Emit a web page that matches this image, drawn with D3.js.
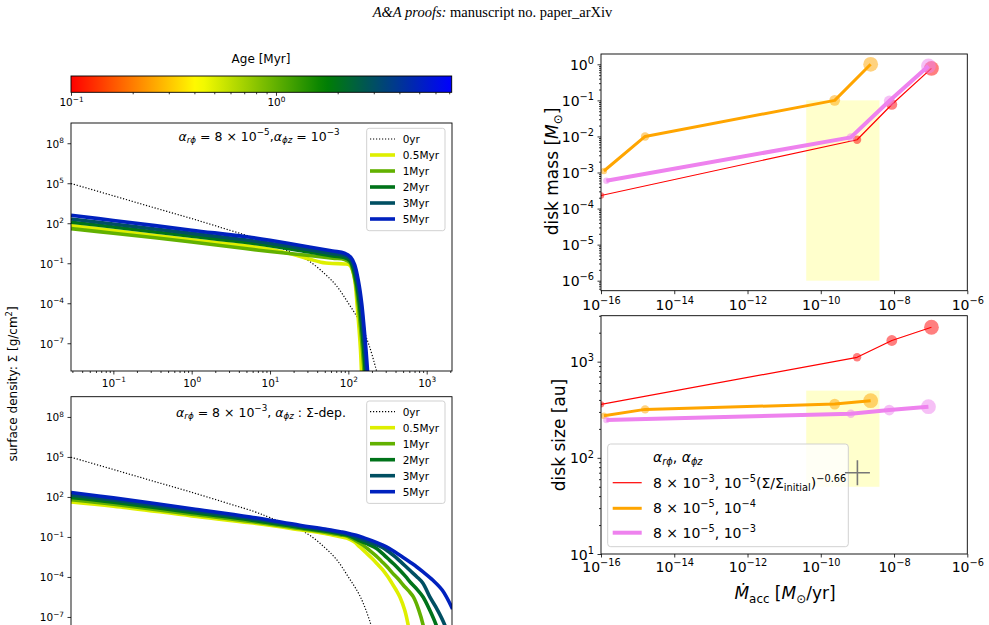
<!DOCTYPE html>
<html><head><meta charset="utf-8">
<script src="https://cdn.jsdelivr.net/npm/d3@7/dist/d3.min.js"></script>
<style>
html,body{margin:0;padding:0;background:#fff;}
svg{display:block;}
text{font-family:"DejaVu Sans",sans-serif;}
</style></head>
<body>
<svg id="chart" width="989" height="625"></svg>
<script>
// ================= DATA =================
const titleItalic = "A&A proofs:";
const titleRest = " manuscript no. paper_arXiv";

// colour bar (age, Myr)
const ageDomain = [0.1, 7.2];
const ageMajorTicks = [0.1, 1];
const snapshotAges = [0.5, 1, 2, 3, 5];
const snapshotLabels = ["0.5Myr", "1Myr", "2Myr", "3Myr", "5Myr"];
const initialLabel = "0yr";

// surface-density panels: radius [au], sigma [g/cm^2]
const radiusDomain = [0.0288, 2104];
const radiusMajorTicks = [0.1, 1, 10, 100, 1000];
const sigmaDomain = [8.3e-10, 3.3e9];
const sigmaMajorTicks = [1e-7, 1e-4, 1e-1, 1e2, 1e5, 1e8];

// [log10 r, log10 sigma]
const logSigmaInitial = [[-1.54,4.98],[-1,4.06],[-0.5,3.2],[0,2.35],[0.5,1.45],[0.8,0.9],[1.0,0.45],[1.3,-0.25],[1.5,-0.85],[1.7,-1.8],[1.85,-2.7],[2.0,-4.0],[2.15,-5.45],[2.27,-7.25],[2.37,-9.3]];

// panel A : alpha_rphi = 8e-5, alpha_phiz = 1e-3
const logSigmaA05 = [[-1.54,1.83],[-1,1.46],[0,0.76],[0.68,0.33],[1.0,0.05],[1.3,-0.35],[1.5,-0.68],[1.65,-0.92],[1.8,-1.02],[1.95,-1.05],[2.02,-1.15],[2.055,-1.55],[2.085,-2.4],[2.11,-4],[2.135,-5.8],[2.155,-7.5],[2.17,-9.5]];
const logSigmaA1  = [[-1.54,1.6],[-1,1.25],[0,0.6],[0.68,0.1],[1.0,-0.12],[1.5,-0.42],[1.8,-0.62],[1.95,-0.72],[2.02,-0.95],[2.05,-1.4],[2.09,-2.4],[2.125,-4],[2.155,-5.8],[2.18,-7.5],[2.205,-9.5]];
const logSigmaA2  = [[-1.54,2.08],[-1,1.72],[0,1.02],[0.68,0.58],[1.0,0.32],[1.5,-0.16],[1.8,-0.45],[1.95,-0.58],[2.02,-0.82],[2.06,-1.35],[2.1,-2.4],[2.14,-4],[2.17,-5.8],[2.195,-7.5],[2.22,-9.5]];
const logSigmaA3  = [[-1.54,2.32],[-1,1.95],[0,1.24],[0.68,0.76],[1.0,0.5],[1.5,0.02],[1.8,-0.28],[1.95,-0.42],[2.03,-0.7],[2.07,-1.25],[2.115,-2.4],[2.155,-4],[2.185,-5.8],[2.21,-7.5],[2.235,-9.5]];
const logSigmaA5  = [[-1.54,2.6],[-1,2.21],[0,1.48],[0.68,1.0],[1.0,0.72],[1.5,0.22],[1.8,-0.08],[1.95,-0.25],[2.03,-0.55],[2.08,-1.1],[2.13,-2.4],[2.17,-4],[2.2,-5.8],[2.225,-7.5],[2.25,-9.5]];

// panel B : alpha_rphi = 8e-3, alpha_phiz sigma-dependent
const logSigmaB05 = [[-1.54,1.63],[-1,1.31],[0,0.58],[0.75,0.06],[1.38,-0.46],[1.7,-0.74],[1.9,-0.98],[1.98,-1.08],[2.07,-1.35],[2.147,-1.75],[2.22,-2.15],[2.3,-2.6],[2.37,-3.03],[2.444,-3.5],[2.5,-3.95],[2.56,-4.5],[2.61,-4.98],[2.658,-5.5],[2.72,-6.5],[2.763,-7.6],[2.8,-9]];
const logSigmaB1  = [[-1.54,1.8],[-1,1.46],[0,0.71],[0.75,0.17],[1.38,-0.37],[1.7,-0.64],[1.9,-0.85],[1.98,-0.94],[2.1,-1.3],[2.19,-1.63],[2.27,-2.0],[2.35,-2.4],[2.42,-2.8],[2.5,-3.27],[2.57,-3.75],[2.64,-4.17],[2.7,-4.6],[2.77,-5.05],[2.83,-5.5],[2.9,-6.5],[2.954,-7.6],[3.0,-9]];
const logSigmaB2  = [[-1.54,1.97],[-1,1.61],[0,0.84],[0.75,0.28],[1.38,-0.28],[1.7,-0.56],[1.9,-0.77],[1.98,-0.86],[2.07,-1.06],[2.15,-1.3],[2.26,-1.57],[2.36,-1.87],[2.43,-2.22],[2.5,-2.6],[2.58,-3.03],[2.658,-3.5],[2.73,-3.96],[2.8,-4.45],[2.88,-4.95],[2.954,-5.5],[3.04,-6.5],[3.12,-7.6],[3.2,-9.2]];
const logSigmaB3  = [[-1.54,2.15],[-1,1.77],[0,0.98],[0.75,0.39],[1.38,-0.2],[1.7,-0.48],[1.9,-0.69],[1.98,-0.78],[2.09,-1.0],[2.2,-1.25],[2.32,-1.5],[2.44,-1.8],[2.52,-2.13],[2.6,-2.5],[2.69,-2.98],[2.785,-3.5],[2.87,-3.96],[2.95,-4.45],[3.04,-5.5],[3.14,-6.5],[3.23,-7.6],[3.3,-9]];
const logSigmaB5  = [[-1.54,2.33],[-1,1.93],[0,1.12],[0.75,0.5],[1.38,-0.12],[1.7,-0.4],[1.9,-0.61],[1.98,-0.7],[2.1,-0.88],[2.2,-1.07],[2.3,-1.28],[2.44,-1.62],[2.52,-1.86],[2.6,-2.15],[2.69,-2.5],[2.785,-2.88],[2.87,-3.23],[2.95,-3.6],[3.08,-4.25],[3.2,-5.0],[3.33,-6.4]];

// right panels
const maccDomain = [1e-16, 1e-6];
const maccMajorTicks = [1e-16, 1e-14, 1e-12, 1e-10, 1e-8, 1e-6];
const massDomain = [5.28e-7, 1.93];
const massMajorTicks = [1e-6, 1e-5, 1e-4, 1e-3, 1e-2, 1e-1, 1];
const sizeDomain = [10, 3006];
const sizeMajorTicks = [10, 100, 1000];

const maccRed    = [1.0e-16, 9.8e-10, 8.7e-9, 1.05e-7];
const massRed    = [2.3e-4, 8.1e-3, 0.077, 0.77];
const sizeRed    = [360, 1110, 1660, 2280];
const maccOrange = [1.2e-16, 1.6e-15, 2.4e-10, 2.3e-9];
const massOrange = [1.1e-3, 0.010, 0.10, 1.0];
const sizeOrange = [274, 319, 362, 393];
const maccViolet = [1.4e-16, 6.6e-10, 7.4e-9, 8.7e-8];
const massViolet = [5.9e-4, 9.4e-3, 0.096, 0.90];
const sizeViolet = [247, 287, 314, 340];

const obsMaccRange = [4e-11, 4e-9];
const obsMassRange = [1e-6, 0.1];
const obsSizeRange = [50, 500];
const obsPointMacc = 1e-9;
const obsPointSize = 70;

// ================= HELPERS =================
const svg = d3.select("#chart");
const defs = svg.append("defs");

function rich(t, parts, fs) {
  let cur = 0;
  for (const [txt, mode] of parts) {
    let shift = 0, size = fs, it = false;
    if (mode === "sup") { shift = -0.42 * fs; size = 0.7 * fs; }
    else if (mode === "sub" || mode === "isub") { shift = 0.22 * fs; size = 0.7 * fs; it = (mode === "isub"); }
    else if (mode === "i") { it = true; }
    const ts = t.append("tspan").attr("font-size", size).text(txt);
    if (Math.abs(shift - cur) > 1e-9) ts.attr("dy", shift - cur);
    if (it) ts.attr("font-style", "italic");
    cur = shift;
  }
  return t;
}
function expLabel(v) {
  const e = Math.round(Math.log10(v));
  return [["10", ""], [(e < 0 ? "\u2212" : "") + Math.abs(e), "sup"]];
}
function isDecade(v) { const l = Math.log10(v); return Math.abs(l - Math.round(l)) < 1e-6; }

function xAxis(parent, scale, yPos, major, fs, labelY, withMinor) {
  const g = parent.append("g").attr("transform", `translate(0,${yPos})`);
  if (withMinor) {
    const minor = scale.ticks(12).filter(v => !isDecade(v));
    g.append("g").call(d3.axisBottom(scale).tickValues(minor).tickSize(2).tickFormat(() => ""));
  }
  const gm = g.append("g").call(d3.axisBottom(scale).tickValues(major).tickSize(3.5).tickFormat(() => ""));
  gm.selectAll(".tick").each(function (d) {
    const t = d3.select(this).append("text").attr("y", labelY).attr("text-anchor", "middle").attr("fill", "#000");
    rich(t, expLabel(d), fs);
  });
  g.selectAll(".domain").remove();
  g.selectAll("line").attr("stroke", "#000").attr("stroke-width", 0.8);
  return g;
}
function yAxis(parent, scale, xPos, major, fs, withMinor) {
  const g = parent.append("g").attr("transform", `translate(${xPos},0)`);
  if (withMinor) {
    const minor = scale.ticks(12).filter(v => !isDecade(v));
    g.append("g").call(d3.axisLeft(scale).tickValues(minor).tickSize(2).tickFormat(() => ""));
  }
  const gm = g.append("g").call(d3.axisLeft(scale).tickValues(major).tickSize(3.5).tickFormat(() => ""));
  gm.selectAll(".tick").each(function (d) {
    const t = d3.select(this).append("text").attr("x", -7).attr("y", 0.36 * fs).attr("text-anchor", "end").attr("fill", "#000");
    rich(t, expLabel(d), fs);
  });
  g.selectAll(".domain").remove();
  g.selectAll("line").attr("stroke", "#000").attr("stroke-width", 0.8);
  return g;
}
function clip(id, x, y, w, h) {
  defs.append("clipPath").attr("id", id).append("rect").attr("x", x).attr("y", y).attr("width", w).attr("height", h);
  return `url(#${id})`;
}
function frame(x0, y0, x1, y1) {
  svg.append("rect").attr("x", x0).attr("y", y0).attr("width", x1 - x0).attr("height", y1 - y0)
    .attr("fill", "none").attr("stroke", "#000").attr("stroke-width", 0.9);
}

// ================= TITLE =================
const title = svg.append("text").attr("x", 492.5).attr("y", 17).attr("text-anchor", "middle")
  .style("font-family", "'Liberation Serif','Times New Roman',serif").attr("font-size", 14.5).attr("fill", "#000");
title.append("tspan").attr("font-style", "italic").text(titleItalic);
title.append("tspan").text(titleRest);

// ================= COLOUR BAR =================
const ageColor = d3.scaleSequentialLog(d3.piecewise(d3.interpolateRgb, ["#ff0000", "#ffff00", "#008000", "#0000ff"])).domain(ageDomain);
const cbX = d3.scaleLog().domain(ageDomain).range([71, 451.7]);
const grad = defs.append("linearGradient").attr("id", "cbgrad").attr("x1", "0%").attr("x2", "100%").attr("y1", "0%").attr("y2", "0%");
d3.range(0, 41).forEach(i => {
  const f = i / 40;
  const age = cbX.invert(71 + f * (451.7 - 71));
  grad.append("stop").attr("offset", (f * 100) + "%").attr("stop-color", ageColor(age));
});
svg.append("rect").attr("x", 71).attr("y", 76).attr("width", 451.7 - 71).attr("height", 16.3)
  .attr("fill", "url(#cbgrad)").attr("stroke", "#000").attr("stroke-width", 0.9);
xAxis(svg, cbX, 92.3, ageMajorTicks, 10.5, 14, true);
svg.append("text").attr("x", 261).attr("y", 63).attr("text-anchor", "middle").attr("font-size", 12).text("Age [Myr]");

// ================= SURFACE DENSITY PANELS =================
const rX = d3.scaleLog().domain(radiusDomain).range([71, 452]);
const curvesA = [logSigmaA05, logSigmaA1, logSigmaA2, logSigmaA3, logSigmaA5];
const curvesB = [logSigmaB05, logSigmaB1, logSigmaB2, logSigmaB3, logSigmaB5];

function sigmaPanel(id, top, bottom, curves, annParts, annX, annY, legTop, showX) {
  const yS = d3.scaleLog().domain(sigmaDomain).range([bottom, top]);
  const line = d3.line().x(d => rX(Math.pow(10, d[0]))).y(d => yS(Math.pow(10, d[1]))).curve(d3.curveCatmullRom.alpha(0.5));
  const g = svg.append("g").attr("clip-path", clip(id, 71, top, 452 - 71, bottom - top));
  g.append("path").attr("d", line(logSigmaInitial)).attr("fill", "none").attr("stroke", "#000")
    .attr("stroke-width", 1.2).attr("stroke-dasharray", "1.2,1.8");
  curves.forEach((c, i) => {
    g.append("path").attr("d", line(c)).attr("fill", "none").attr("stroke", ageColor(snapshotAges[i]))
      .attr("stroke-width", 3.6).attr("stroke-linejoin", "round");
  });
  frame(71, top, 452, bottom);
  yAxis(svg, yS, 71, sigmaMajorTicks, 10.5, false);
  if (showX) xAxis(svg, rX, bottom, radiusMajorTicks, 10.5, 15.5, true);
  const at = svg.append("text").attr("x", annX).attr("y", annY).attr("text-anchor", "middle").attr("fill", "#000");
  rich(at, annParts, 12.5);
  // legend
  const lx = 366.7, lw = 78.3, rowH = 16;
  svg.append("rect").attr("x", lx).attr("y", legTop).attr("width", lw).attr("height", 102.4).attr("rx", 2.5)
    .attr("fill", "#fff").attr("fill-opacity", 0.8).attr("stroke", "#cccccc").attr("stroke-width", 0.9);
  const rows = [{ label: initialLabel, color: "#000", dotted: true }]
    .concat(snapshotLabels.map((l, i) => ({ label: l, color: ageColor(snapshotAges[i]), dotted: false })));
  rows.forEach((r, i) => {
    const cy = legTop + 10.7 + i * rowH;
    const ln = svg.append("line").attr("x1", lx + 3.3).attr("x2", lx + 28.3).attr("y1", cy).attr("y2", cy).attr("stroke", r.color);
    if (r.dotted) ln.attr("stroke-width", 1.2).attr("stroke-dasharray", "1.2,1.8");
    else ln.attr("stroke-width", 3.6);
    svg.append("text").attr("x", lx + 36).attr("y", cy + 3.8).attr("font-size", 10.5).attr("fill", "#000").text(r.label);
  });
}

sigmaPanel("clipA", 123, 371, curvesA,
  [["\u03b1", "i"], ["r\u03d5", "isub"], [" = 8 \u00d7 10", ""], ["\u22125", "sup"], [",", ""], ["\u03b1", "i"], ["\u03d5z", "isub"], [" = 10", ""], ["\u22123", "sup"]],
  259, 140.5, 128.3, true);
sigmaPanel("clipB", 396.7, 644.7, curvesB,
  [["\u03b1", "i"], ["r\u03d5", "isub"], [" = 8 \u00d7 10", ""], ["\u22123", "sup"], [", ", ""], ["\u03b1", "i"], ["\u03d5z", "isub"], [" : \u03a3-dep.", ""]],
  261, 416.5, 401, false);

const ylab = svg.append("text").attr("transform", "translate(17,384) rotate(-90)").attr("text-anchor", "middle").attr("fill", "#000");
rich(ylab, [["surface density: \u03a3 [g/cm", ""], ["2", "sup"], ["]", ""]], 12);

// ================= RIGHT PANELS =================
const mX = d3.scaleLog().domain(maccDomain).range([601, 967.3]);
const seriesStyles = [
  { color: "#ff0000", width: 1.2 },
  { color: "#ffa500", width: 3 },
  { color: "#ee82ee", width: 4 }
];
const markerRadius = d3.scaleOrdinal().domain([0, 1, 2, 3]).range([3.2, 4.2, 5.4, 7.4]);

function rightPanel(id, top, bottom, domain, major, ys, obsRange, labelY) {
  const yS = d3.scaleLog().domain(domain).range([bottom, top]);
  const g = svg.append("g").attr("clip-path", clip(id, 601, top, 967.3 - 601, bottom - top));
  g.append("rect").attr("x", mX(obsMaccRange[0])).attr("width", mX(obsMaccRange[1]) - mX(obsMaccRange[0]))
    .attr("y", yS(obsRange[1])).attr("height", yS(obsRange[0]) - yS(obsRange[1]))
    .attr("fill", "#ffff00").attr("fill-opacity", 0.2);
  const xs = [maccRed, maccOrange, maccViolet];
  xs.forEach((xv, k) => {
    const pts = xv.map((x, i) => [mX(x), yS(ys[k][i])]);
    g.append("path").attr("d", d3.line()(pts)).attr("fill", "none")
      .attr("stroke", seriesStyles[k].color).attr("stroke-width", seriesStyles[k].width).attr("stroke-linejoin", "round");
    g.selectAll(null).data(pts).enter().append("circle")
      .attr("cx", d => d[0]).attr("cy", d => d[1]).attr("r", (d, i) => markerRadius(i))
      .attr("fill", seriesStyles[k].color).attr("fill-opacity", 0.5);
  });
  frame(601, top, 967.3, bottom);
  yAxis(svg, yS, 601, major, 14, true);
  xAxis(svg, mX, bottom, maccMajorTicks, 14, labelY, false);
  return yS;
}

rightPanel("clipM", 54, 290.7, massDomain, massMajorTicks, [massRed, massOrange, massViolet], obsMassRange, 19.5);
const ySize = rightPanel("clipS", 315.7, 554, sizeDomain, sizeMajorTicks, [sizeRed, sizeOrange, sizeViolet], obsSizeRange, 18);

// legend (bottom right)
const LX = 607.7, LY = 444;
svg.append("rect").attr("x", LX).attr("y", LY).attr("width", 240.6).attr("height", 102.7).attr("rx", 3)
  .attr("fill", "#fff").attr("fill-opacity", 0.8).attr("stroke", "#cccccc").attr("stroke-width", 0.9);
rich(svg.append("text").attr("x", 653).attr("y", 462).attr("fill", "#000"),
  [["\u03b1", "i"], ["r\u03d5", "isub"], [", ", ""], ["\u03b1", "i"], ["\u03d5z", "isub"]], 14);
const legRows = [
  [["8 \u00d7 10", ""], ["\u22123", "sup"], [", 10", ""], ["\u22125", "sup"], ["(\u03a3/\u03a3", ""], ["initial", "sub"], [")", ""], ["\u22120.66", "sup"]],
  [["8 \u00d7 10", ""], ["\u22125", "sup"], [", 10", ""], ["\u22124", "sup"]],
  [["8 \u00d7 10", ""], ["\u22125", "sup"], [", 10", ""], ["\u22123", "sup"]]
];
const legRowY = [482.7, 508.3, 532.7];
legRows.forEach((parts, k) => {
  svg.append("line").attr("x1", 612.7).attr("x2", 641.7).attr("y1", legRowY[k]).attr("y2", legRowY[k])
    .attr("stroke", seriesStyles[k].color).attr("stroke-width", seriesStyles[k].width);
  rich(svg.append("text").attr("x", 653).attr("y", legRowY[k] + 5).attr("fill", "#000"), parts, 14);
});

// observed point (gray cross)
const cx = mX(obsPointMacc), cy = ySize(obsPointSize);
svg.append("path").attr("d", `M${cx - 12.5},${cy}H${cx + 12.5}M${cx},${cy - 12.5}V${cy + 12.5}`)
  .attr("stroke", "#777").attr("stroke-width", 1.6).attr("fill", "none");

// axis labels
rich(svg.append("text").attr("transform", "translate(558,171.5) rotate(-90)").attr("text-anchor", "middle").attr("fill", "#000"),
  [["disk mass [", ""], ["M", "i"], ["\u2299", "sub"], ["]", ""]], 17);
rich(svg.append("text").attr("transform", "translate(565,435) rotate(-90)").attr("text-anchor", "middle").attr("fill", "#000"),
  [["disk size [au]", ""]], 17);
rich(svg.append("text").attr("x", 785).attr("y", 599).attr("text-anchor", "middle").attr("fill", "#000"),
  [["M\u0307", "i"], ["acc", "sub"], [" [", ""], ["M", "i"], ["\u2299", "sub"], ["/yr]", ""]], 17);
</script>
</body></html>
